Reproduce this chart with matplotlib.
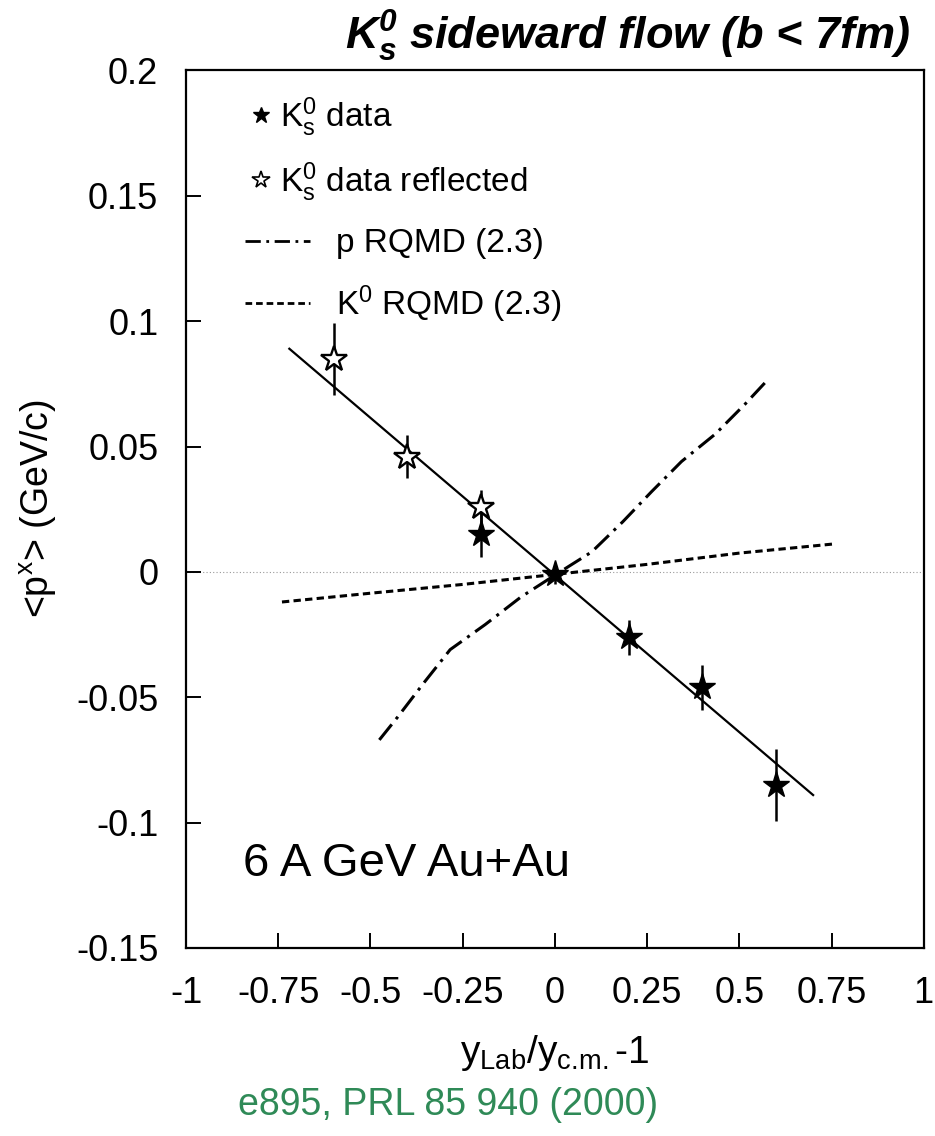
"""
K0s sideward flow, 6 A GeV Au+Au (E895).
Redraw of <p^x> vs normalised rapidity with RQMD curves.
"""
import matplotlib
matplotlib.use("Agg")
import matplotlib.pyplot as plt
from matplotlib.lines import Line2D

plt.rcParams["font.family"] = ["Liberation Sans", "DejaVu Sans"]
plt.rcParams["mathtext.fontset"] = "custom"
plt.rcParams["mathtext.rm"] = "Liberation Sans"
plt.rcParams["mathtext.it"] = "Liberation Sans:italic"
plt.rcParams["mathtext.bf"] = "Liberation Sans:bold"
plt.rcParams["mathtext.bfit"] = "Liberation Sans:bold:italic"
plt.rcParams["axes.unicode_minus"] = False

# measured K0s points
data_x = [-0.2, 0.0, 0.2, 0.4, 0.6]
data_y = [0.015, -0.001, -0.026, -0.046, -0.085]
data_err = [0.009, 0.004, 0.007, 0.009, 0.0145]

# reflected points
refl_x = [-0.6, -0.4, -0.2]
refl_y = [0.085, 0.046, 0.026]
refl_err = [0.0144, 0.0086, 0.0066]

# linear fit through data
fit_x = [-0.72, 0.70]
fit_y = [0.089, -0.089]

# p RQMD (2.3)
p_rqmd_x = [-0.476, -0.427, -0.354, -0.284, -0.189, -0.092, 0.003,
            0.100, 0.184, 0.262, 0.343, 0.435, 0.516, 0.573]
p_rqmd_y = [-0.067, -0.058, -0.044, -0.031, -0.021, -0.010, -0.001,
            0.008, 0.020, 0.032, 0.044, 0.055, 0.067, 0.076]

# K0 RQMD (2.3)
k_rqmd_x = [-0.74, -0.5, -0.25, 0.0, 0.25, 0.5, 0.76]
k_rqmd_y = [-0.012, -0.0085, -0.005, -0.001, 0.003, 0.0075, 0.0112]

x_ticks = [-1, -0.75, -0.5, -0.25, 0, 0.25, 0.5, 0.75, 1]
x_ticklabels = ["-1", "-0.75", "-0.5", "-0.25", "0", "0.25", "0.5", "0.75", "1"]
y_ticks = [-0.15, -0.1, -0.05, 0, 0.05, 0.1, 0.15, 0.2]
y_ticklabels = ["-0.15", "-0.1", "-0.05", "0", "0.05", "0.1", "0.15", "0.2"]

fig = plt.figure(figsize=(9.35, 11.36), dpi=100)
ax = fig.add_axes([0.199, 0.1655, 0.789, 0.7725])

ax.axhline(0, ls=(0, (1, 2)), color="#999999", lw=0.8, zorder=1)

dashdot = (0, (6.5, 2.2, 1.0, 2.2))
dashed = (0, (2.4, 1.4))

ax.plot(fit_x, fit_y, color="black", lw=1.6, zorder=2)
ax.plot(p_rqmd_x, p_rqmd_y, color="black", lw=2.2, ls=dashdot, zorder=2)
ax.plot(k_rqmd_x, k_rqmd_y, color="black", lw=2.2, ls=dashed, zorder=2)

ax.errorbar(refl_x, refl_y, yerr=refl_err, fmt="*", ms=19, mfc="white",
            mec="black", mew=1.7, ecolor="black", elinewidth=1.8, capsize=0,
            zorder=3)
ax.errorbar(data_x, data_y, yerr=data_err, fmt="*", ms=20, color="black",
            ecolor="black", elinewidth=1.8, capsize=0, zorder=4)

ax.set_xlim(-1, 1)
ax.set_ylim(-0.15, 0.2)
ax.set_xticks(x_ticks)
ax.set_xticklabels(x_ticklabels)
ax.set_yticks(y_ticks)
ax.set_yticklabels(y_ticklabels)
ax.tick_params(direction="in", length=11, width=1.4, labelsize=26, pad=20,
               top=False, right=False)
for sp in ax.spines.values():
    sp.set_linewidth(1.6)

ax.set_xlabel(r"$\mathrm{y_{Lab}/y_{c.\!m.}}$-1", fontsize=28, labelpad=16)
ax.set_ylabel(r"<p$^\mathrm{x}$> (GeV/c)", fontsize=27, labelpad=12)

# legends: stars and model curves
star_handles = [
    Line2D([], [], marker="*", ls="none", color="black", ms=12),
    Line2D([], [], marker="*", ls="none", mfc="white", mec="black", ms=13, mew=1.2),
]
leg1 = ax.legend(star_handles,
                 [r"K$^0_\mathrm{s}$ data", r"K$^0_\mathrm{s}$ data reflected"],
                 loc="upper left", bbox_to_anchor=(0.0795, 0.972), frameon=False,
                 fontsize=24, handlelength=1.0, handletextpad=0.05,
                 labelspacing=0.66, borderpad=0, borderaxespad=0)
ax.add_artist(leg1)
line_handles = [
    Line2D([], [], color="black", lw=2.0, ls=(0, (5.5, 2.0, 1.0, 2.0))),
    Line2D([], [], color="black", lw=2.0, ls=dashed),
]
ax.legend(line_handles, ["p RQMD (2.3)", r"K$^0$ RQMD (2.3)"],
          loc="upper left", bbox_to_anchor=(0.0795, 0.82), frameon=False,
          fontsize=24, handlelength=1.95, handletextpad=0.8,
          labelspacing=0.72, borderpad=0, borderaxespad=0)

ax.text(0.077, 0.082, "6 A GeV Au+Au", transform=ax.transAxes,
        fontsize=34, va="baseline", ha="left")

fig.text(0.9733, 0.956, r"$\mathbfit{K^0_s}$ sideward flow (b < 7fm)",
         fontsize=32.5, fontweight="bold", fontstyle="italic",
         ha="right", va="baseline")

fig.text(0.479, 0.027, "e895, PRL 85 940 (2000)", color="#2f8a57",
         fontsize=27, ha="center", va="center")

fig.savefig("out.png", dpi=100)
plt.close(fig)
